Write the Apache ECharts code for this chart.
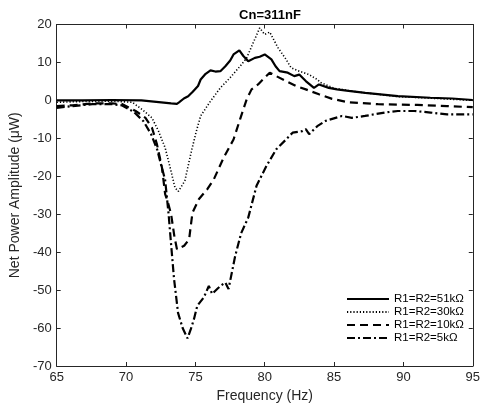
<!DOCTYPE html>
<html>
<head>
<meta charset="utf-8">
<script src="https://cdn.jsdelivr.net/npm/echarts@6/dist/echarts.min.js"></script>
<style>html,body{margin:0;padding:0;background:#fff}#c{width:483px;height:410px}</style>
</head>
<body>
<div id="c"></div>
<script>
var xTicks = [65, 70, 75, 80, 85, 90, 95];
var yTicks = [-70, -60, -50, -40, -30, -20, -10, 0, 10, 20];
var seriesNames = ['R1=R2=51k\u03a9', 'R1=R2=30k\u03a9', 'R1=R2=10k\u03a9', 'R1=R2=5k\u03a9'];

var freq51 = [65, 66.85, 68.98, 71.11, 72.54, 73.25, 73.67, 73.82, 74.17, 74.48, 74.81, 75.19, 75.38, 75.74, 76.09, 76.44, 76.8, 77.16, 77.51, 77.75, 78.17, 78.46, 78.81, 79.29, 79.64, 80.0, 80.48, 80.78, 81.07, 81.66, 82.13, 82.49, 82.96, 83.55, 83.91, 84.62, 85.21, 86.04, 87.25, 89.6, 91.94, 93.5, 95];
var power51 = [0, 0, 0.1, 0, -0.5, -0.8, -0.9, -0.5, 0.5, 1.1, 2.3, 3.8, 5.5, 7.0, 7.9, 7.6, 7.7, 9.0, 10.5, 12.1, 13.2, 11.7, 10.3, 11.2, 11.5, 12.1, 10.8, 9.0, 7.7, 7.3, 6.4, 6.8, 5.1, 3.3, 4.2, 3.3, 2.9, 2.5, 2.0, 1.1, 0.7, 0.5, 0.1];

var freq30 = [65, 66.85, 68.98, 70.45, 71.16, 71.87, 72.34, 72.82, 73.18, 73.53, 73.77, 74.24, 74.72, 75.07, 75.38, 76.09, 76.8, 77.51, 78.22, 78.7, 79.17, 79.64, 79.99, 80.36, 80.95, 81.54, 81.9, 82.49, 83.2, 83.79, 84.03, 84.98, 86.75, 89.6, 92.44, 95];
var power30 = [-0.5, -0.3, -0.2, -0.5, -2.4, -4.6, -8.1, -12.5, -17.7, -23, -24, -21.2, -13.3, -8.1, -4.1, -0.2, 3.3, 6, 9, 11.2, 15.2, 19.1, 17.4, 18, 13.9, 10.8, 8.6, 7.7, 6.8, 5.5, 4.7, 3.2, 2.2, 1.0, 0.5, 0];

var freq10 = [65, 66.14, 67.56, 68.98, 69.74, 70.69, 71.4, 71.87, 72.23, 72.59, 72.82, 73.03, 73.25, 73.48, 73.67, 74.19, 74.55, 74.67, 74.79, 75.26, 75.86, 76.33, 77.04, 77.75, 78.22, 78.7, 79.05, 79.52, 80.0, 80.36, 80.83, 81.54, 82.25, 82.96, 83.91, 84.86, 86.04, 88.17, 91.0, 93.15, 95];
var power10 = [-1.5, -1.3, -0.8, -0.8, -1, -2.8, -4.6, -7.2, -11.6, -17.7, -24.7, -27, -30, -35.7, -39.2, -38.3, -36.6, -33, -29.6, -26, -23.4, -20.8, -15.1, -10.3, -5, 0.3, 2.9, 4.2, 6, 7.3, 6.4, 5.1, 3.8, 2.9, 1.6, 0.4, -0.5, -1.0, -1.2, -1.5, -1.8];

var freq5 = [65, 66.14, 67.56, 68.98, 69.69, 70.55, 71.26, 71.82, 72.25, 72.53, 72.82, 73.07, 73.25, 73.46, 73.75, 74.08, 74.43, 74.67, 74.9, 75.14, 75.61, 75.97, 76.21, 76.57, 76.8, 77.16, 77.39, 77.87, 78.3, 78.81, 79.41, 80.12, 80.83, 81.54, 82.01, 82.72, 82.96, 83.2, 83.79, 84.39, 85.57, 86.28, 87.23, 88.65, 89.6, 90.78, 91.96, 93.15, 95];
var power5 = [-2, -1.5, -1, -1, -1.3, -3, -5.5, -9, -13, -17, -21, -30, -38, -47, -56, -60, -62.7, -60.3, -57.6, -54.1, -51.9, -48.9, -51, -49.7, -48.9, -48, -49.7, -41, -35, -30.9, -22.5, -17.3, -12.9, -10.3, -8.5, -8.1, -7.6, -8.9, -6.8, -5.4, -4.1, -4.6, -4.1, -3.2, -2.8, -2.8, -3.2, -3.7, -3.7];

function zip(f, p) { return f.map(function (v, i) { return [v, p[i]]; }); }

var FONT = 'Liberation Sans';
var AX = '#262626';
var chart = echarts.init(document.getElementById('c'), null, {renderer: 'canvas'});

var styles = [
  {width: 2.2, type: 'solid'},
  {width: 1.6, type: [1.2, 2]},
  {width: 2.2, type: [8, 5]},
  {width: 2.2, type: [8, 3, 2, 3]}
];
var datas = [zip(freq51, power51), zip(freq30, power30), zip(freq10, power10), zip(freq5, power5)];

var series = datas.map(function (d, i) {
  return {
    name: seriesNames[i], type: 'line', data: d, symbol: 'none', smooth: false,
    xAxisIndex: 0, yAxisIndex: 0, silent: true, animation: false,
    itemStyle: {color: '#000'},
    lineStyle: {color: '#000', width: styles[i].width, type: styles[i].type}
  };
});

var tickCommon = {show: true, inside: true, length: 4, lineStyle: {color: AX, width: 1}};
var lineCommon = {show: true, onZero: false, lineStyle: {color: AX, width: 1}};

chart.setOption({
  animation: false,
  backgroundColor: '#fff',
  title: {
    text: 'Cn=311nF', left: 265, textAlign: 'center', top: 4,
    textStyle: {fontFamily: FONT, fontSize: 13, fontWeight: 'bold', color: '#000'}
  },
  grid: {left: 54, right: 7, top: 24.5, bottom: 44, containLabel: false},
  legend: {
    orient: 'vertical', left: 346, top: 293, itemWidth: 42, itemHeight: 10, itemGap: 1,
    padding: 0, data: seriesNames, selectedMode: false,
    itemStyle: {opacity: 0},
    textStyle: {fontFamily: FONT, fontSize: 11.5, color: '#000'}
  },
  xAxis: [
    {
      type: 'value', min: 65, max: 95, interval: 5, position: 'bottom',
      axisLine: lineCommon, axisTick: tickCommon, splitLine: {show: false},
      axisLabel: {fontFamily: FONT, fontSize: 13, color: AX, margin: 5,
        formatter: function (v) { return xTicks.indexOf(v) >= 0 ? String(v) : ''; }},
      name: 'Frequency (Hz)', nameLocation: 'middle', nameGap: 13,
      nameTextStyle: {fontFamily: FONT, fontSize: 14, color: AX, verticalAlign: 'top'}
    },
    {
      type: 'value', min: 65, max: 95, interval: 5, position: 'top',
      axisLine: lineCommon, axisTick: tickCommon, splitLine: {show: false}, axisLabel: {show: false}
    }
  ],
  yAxis: [
    {
      type: 'value', min: -70, max: 20, interval: 10, position: 'left',
      axisLine: lineCommon, axisTick: tickCommon, splitLine: {show: false},
      axisLabel: {fontFamily: FONT, fontSize: 13, color: AX, margin: 5,
        formatter: function (v) { return yTicks.indexOf(v) >= 0 ? String(v) : ''; }},
      name: 'Net Power Amplitude (\u03bcW)', nameLocation: 'middle', nameGap: 26,
      nameTextStyle: {fontFamily: FONT, fontSize: 14, color: AX}
    },
    {
      type: 'value', min: -70, max: 20, interval: 10, position: 'right',
      axisLine: lineCommon, axisTick: tickCommon, splitLine: {show: false}, axisLabel: {show: false}
    }
  ],
  series: series
});
</script>
</body>
</html>
